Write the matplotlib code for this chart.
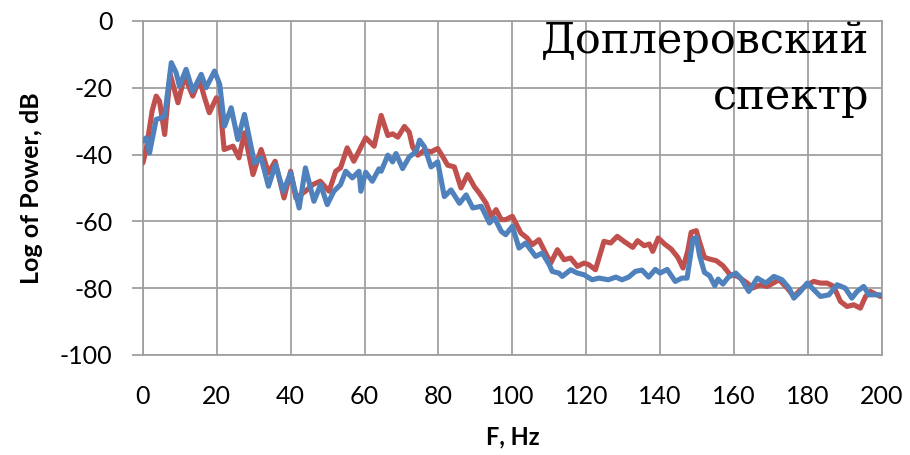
import matplotlib
matplotlib.use("Agg")
from matplotlib import pyplot as plt

# frequency (Hz) / log power (dB)
red_f = [0, 0.9, 2.5, 3.6, 4.5, 5.9, 7.4, 9.5, 11.3, 13.5, 15.3, 16.7, 18, 19.9, 20.8, 22, 24.4, 26,
         27.5, 29.8, 32, 34, 35.8, 38.2, 40, 41.4, 44, 46, 48, 50.4, 52.2, 53.5, 55.3, 57.1, 60.3, 62.6,
         64.5, 66.3, 67.6, 69, 70.8, 72.1, 73, 74.4, 76.2, 78, 79.8, 81.2, 82.5, 84.3, 86.1, 87.9, 89.7,
         91.1, 92.9, 94.3, 95.6, 97, 98.2, 100, 102.3, 104, 105.4, 107.2, 109, 110.4, 112.2, 114, 115.8,
         117.6, 119.4, 120.7, 122.5, 124.8, 126.6, 128.4, 130.2, 132.6, 133.9, 135.7, 137.1, 138, 139.5,
         141.2, 143, 144.8, 146.2, 147.5, 148.4, 149.8, 150.7, 152, 153.4, 155.2, 157, 158.8, 161, 163.6,
         165, 167.2, 169, 172.2, 174.4, 176.2, 178, 179.8, 181.6, 183.4, 185.2, 187, 188.8, 190.6, 192.4,
         194.2, 195.6, 196.9, 199.6]
red_v = [-42.5, -38.5, -27, -22.5, -24, -34, -16, -24.5, -16.5, -22.5, -17.5, -23, -27.5, -23, -24.5, -38.5,
         -37.5, -41, -33.5, -46, -38.5, -45.5, -42, -53, -45, -53, -51, -49, -48, -51, -45, -44, -38, -42,
         -35, -37.5, -28.3, -34.3, -33.8, -34.8, -31.6, -33.3, -37.7, -40.2, -38.7, -39.2, -38.2, -40.7,
         -43.2, -43.7, -50, -46, -49.6, -51.6, -54.6, -58.5, -56.5, -59.5, -59.5, -58.5, -63.5, -65, -67,
         -65.5, -69.5, -72.5, -68.5, -71.5, -71, -73.5, -72.5, -73, -74.5, -66, -66.5, -64.5, -66, -67.8,
         -65.8, -67.3, -66.8, -69, -65, -66.8, -68.3, -70.8, -74, -68.8, -63.3, -62.8, -66.3, -70.8, -71.3,
         -71.8, -73.3, -75.8, -76.5, -78.5, -80, -79, -79.5, -77.5, -80, -82.5, -80.5, -79, -78, -78.5,
         -78.5, -79.5, -84, -85.5, -85, -86, -82.5, -81, -82.5]

blue_f = [0, 0.9, 1.8, 3.6, 5, 5.9, 7.7, 9, 9.9, 11.7, 13.5, 15.8, 17.1, 19.4, 20.8, 22.1, 23.9, 25.7, 27.5,
          30.2, 32, 34, 35.9, 38, 40, 42.3, 44, 46.3, 48.1, 49.9, 51.7, 53.5, 54.9, 56.7, 58.5, 59, 60.3,
          62.1, 63.9, 64.5, 66.3, 67.6, 68.5, 70.3, 72.1, 73.9, 74.9, 76.2, 78, 79.8, 81.6, 83.4, 85.7,
          87.5, 89.3, 91.6, 93.8, 95.2, 97, 98.2, 100, 101.8, 103.6, 106.3, 108.1, 110, 110.8, 112.6, 113.5,
          115.8, 117.6, 119.4, 121.6, 123.4, 126, 128, 129.7, 131.5, 133.3, 135.1, 136.9, 138.7, 140, 141.9,
          144.1, 145.9, 147.3, 148.9, 149.8, 150.7, 152, 153.4, 154.8, 155.7, 157, 158.4, 160.5, 161.8, 164,
          166.3, 168.6, 170.8, 173, 174.9, 176.2, 178, 179.8, 181.6, 183.4, 185.7, 187.9, 190.1, 191.9,
          193.3, 195.1, 196.5, 199.6]
blue_v = [-36, -35, -39.5, -29.5, -29, -28.5, -12.5, -15.5, -19.5, -14.5, -21, -16, -20, -15, -19, -31.5, -26,
          -35.5, -28, -42.5, -41, -49.5, -43, -51, -45.5, -56, -44, -54, -49, -55, -51, -49, -45, -47, -45,
          -51, -45.3, -48, -44.3, -45, -40.2, -42.2, -39.7, -44.2, -40.7, -39.2, -35.7, -37.7, -43.7, -42.2,
          -52.6, -50.6, -54.6, -52.1, -56, -55.5, -60.5, -59, -63, -64, -61.5, -68, -66.5, -70.5, -69.5, -73,
          -75, -75.5, -76.5, -74.5, -75.5, -76, -77.5, -77, -77.5, -76.7, -77.5, -76.7, -75, -74.6, -76.7,
          -74.4, -75.5, -74.4, -78, -77, -77, -65.3, -64.8, -70.3, -75.3, -76.3, -79.3, -77.3, -78.8, -76.8,
          -75.5, -77, -81, -77, -78.5, -76.5, -77.5, -80, -83, -81, -78.5, -80.5, -82.5, -82, -79, -80, -83,
          -81, -79.5, -82, -82]

x_ticks = list(range(0, 201, 20))
y_ticks = list(range(-100, 1, 20))

grid_col = "#A0A0A0"
plt.rcParams["axes.unicode_minus"] = False

fig = plt.figure(figsize=(9.1, 4.55), dpi=100)
ax = fig.add_axes([0.157, 0.22, 0.812, 0.734])

ax.plot(red_f, red_v, color="#C0504D", lw=3.7, solid_joinstyle="round", solid_capstyle="round", zorder=3)
ax.plot(blue_f, blue_v, color="#4F81BD", lw=3.7, solid_joinstyle="round", solid_capstyle="round", zorder=4)

ax.set_xlim(0, 200)
ax.set_ylim(-100, 0)
ax.set_xticks(x_ticks)
ax.set_yticks(y_ticks)
ax.grid(True, color=grid_col, lw=1.3)
for s in ax.spines.values():
    s.set_color(grid_col)
    s.set_linewidth(1.3)
ax.tick_params(axis="y", length=8, width=1.3, color=grid_col, pad=14, labelsize=18)
ax.tick_params(axis="x", length=0, pad=22, labelsize=18)
for lab in ax.get_xticklabels() + ax.get_yticklabels():
    lab.set_family("Lato")

ax.set_xlabel("F, Hz", family="Lato", fontweight="bold", fontsize=17, labelpad=12)
ax.set_ylabel("Log of Power, dB", family="Lato", fontweight="bold", fontsize=18, labelpad=12)

fig.text(0.955, 0.955, "Доплеровский\nспектр", ha="right", va="top", multialignment="right",
         family="DejaVu Serif", fontsize=31, linespacing=1.4)

fig.savefig("out.png", dpi=100)
